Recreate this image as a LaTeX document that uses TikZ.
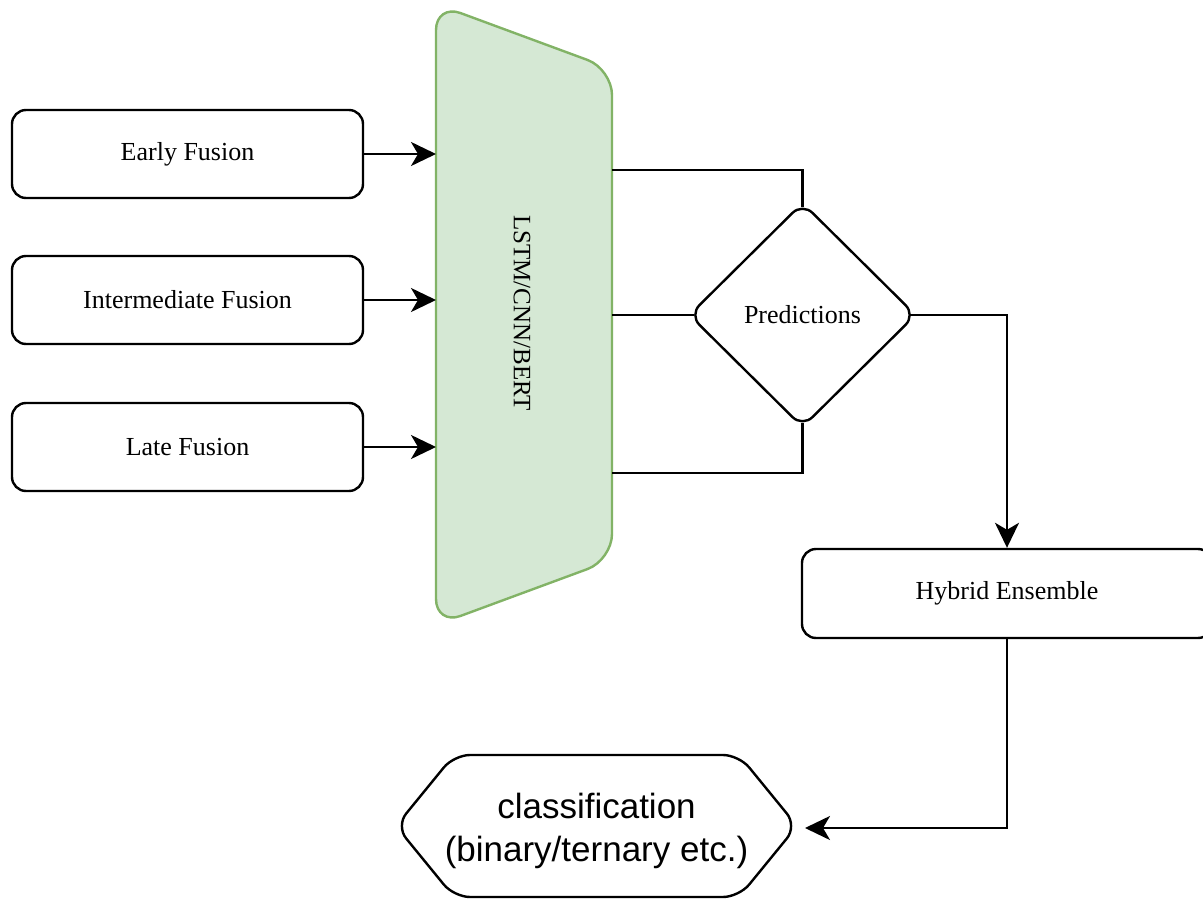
\documentclass[tikz,border=0pt]{standalone}
\usepackage{fontspec}
\setmainfont{Liberation Serif}
\newfontfamily\helv{Liberation Sans}
\usetikzlibrary{arrows.meta,shapes.geometric}
\definecolor{gfill}{HTML}{D5E8D4}
\definecolor{gdraw}{HTML}{82B366}
\begin{document}
\begin{tikzpicture}[x=1pt,y=-1pt,line width=2.4pt,
  txt/.style={font=\fontsize{26}{31}\selectfont},
  box/.style={draw,rounded corners=14pt,minimum width=351pt,minimum height=88pt,inner sep=0pt,txt},
  arr/.style={-{Stealth[length=25pt,width=24pt,inset=7pt]}}]
\useasboundingbox (0,0) rectangle (1203,899);
% input boxes
\node[box] (early) at (187.5,154) {Early Fusion};
\node[box] (inter) at (187.5,300) {Intermediate Fusion};
\node[box] (late) at (187.5,447) {Late Fusion};
% model trapezoid
\draw[gdraw,fill=gfill,rounded corners=26pt] (436,4) -- (612,69) -- (612,560) -- (436,625) -- cycle;
\node[rotate=-90,font=\fontsize{25}{30}\selectfont] (lstm) at (522,313) {LSTM/CNN/BERT};
\coordinate (tl) at (436,315);
\coordinate (tr) at (612,315);
\coordinate (outT) at (612,170);
\coordinate (outB) at (612,473);
\draw[arr] (early.east) -- (early.east -| tl);
\draw[arr] (inter.east) -- (inter.east -| tl);
\draw[arr] (late.east) -- (late.east -| tl);
% predictions
\node[draw,diamond,aspect=1,minimum width=227pt,minimum height=225pt,rounded corners=14pt,inner sep=0pt,txt] (pred) at (802.5,315) {Predictions};
\coordinate (pN) at ([yshift=-6pt]pred.north);
\coordinate (pS) at ([yshift=6pt]pred.south);
\coordinate (pW) at ([xshift=6pt]pred.west);
\coordinate (pE) at ([xshift=-6pt]pred.east);
\draw (outT) -| (pN);
\draw (pW -| tr) -- (pW);
\draw (outB) -| (pS);
% hybrid
\node[box,minimum width=410pt,minimum height=89pt] (hyb) at (1007,593.5) {Hybrid Ensemble};
\draw[arr] (pE) -| (hyb.north);
% classification
\draw[rounded corners=16pt] (396,826) -- (454,755) -- (739,755) -- (797,826) -- (739,897) -- (454,897) -- cycle;
\node[font=\helv\fontsize{35}{43}\selectfont,align=center,inner sep=0pt] (cls) at (596.5,831) {classification\\(binary/ternary etc.)};
\coordinate (clsIn) at (805,828);
\draw[arr] (hyb.south) |- (clsIn);
\end{tikzpicture}
\end{document}
